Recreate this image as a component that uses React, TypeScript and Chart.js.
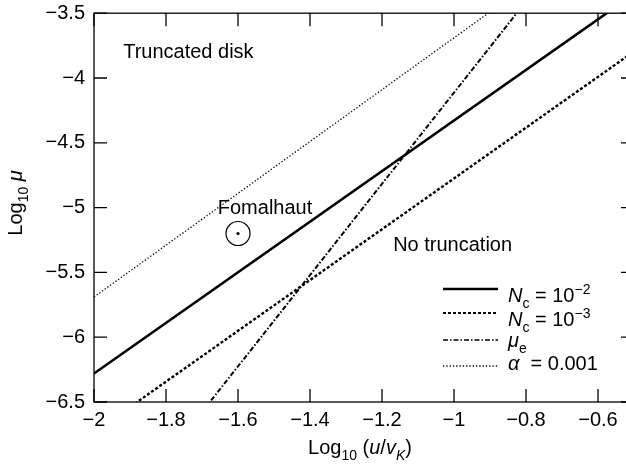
import React, { useEffect, useRef } from 'react';
import { Chart, registerables } from 'chart.js';

Chart.register(...registerables);

// Endpoints of each boundary line (log10 u/vK -> log10 mu)
const xEnds = [-2, -0.5];
const ncHighY = [-6.28, -3.352];   // N_c = 1e-2
const ncLowY = [-6.735, -3.795];   // N_c = 1e-3
const muEY = [-7.633, -2.353];     // mu_e
const alphaY = [-5.69, -2.69];     // alpha = 0.001

const fomalhautX = [-1.6];
const fomalhautY = [-5.2];

const xTicks = [-2, -1.8, -1.6, -1.4, -1.2, -1, -0.8, -0.6];
const yTicks = [-6.5, -6, -5.5, -5, -4.5, -4, -3.5];

const FAMILY = '"Liberation Sans", Arial, Helvetica, sans-serif';
const FS = 20;

type Seg = { t: string; it?: boolean; sub?: boolean; sup?: boolean };

const fmt = (v: number) => (v < 0 ? '\u2212' : '') + String(Math.round(Math.abs(v) * 10) / 10);

function segFont(s: Seg, size: number) {
  const sz = s.sub || s.sup ? Math.round(size * 0.7) : size;
  return `${s.it ? 'italic ' : ''}${sz}px ${FAMILY}`;
}

function richWidth(ctx: CanvasRenderingContext2D, segs: Seg[], size: number) {
  let w = 0;
  for (const s of segs) {
    ctx.font = segFont(s, size);
    w += ctx.measureText(s.t).width;
  }
  return w;
}

// Draws mixed italic / sub / superscript text with its baseline at y
function drawRich(ctx: CanvasRenderingContext2D, segs: Seg[], x: number, y: number, size: number, align: 'left' | 'center' = 'left') {
  let cx = align === 'center' ? x - richWidth(ctx, segs, size) / 2 : x;
  ctx.textAlign = 'left';
  ctx.textBaseline = 'alphabetic';
  for (const s of segs) {
    ctx.font = segFont(s, size);
    const dy = s.sub ? size * 0.28 : s.sup ? -size * 0.42 : 0;
    ctx.fillText(s.t, cx, y + dy);
    cx += ctx.measureText(s.t).width;
  }
}

const styles = {
  ncHigh: { width: 2.6, dash: [] as number[] },
  ncLow: { width: 2.4, dash: [3, 2] },
  muE: { width: 2, dash: [5, 2, 1.5, 2] },
  alpha: { width: 1.3, dash: [1.3, 2] },
};

const legendItems: { style: { width: number; dash: number[] }; label: Seg[] }[] = [
  { style: styles.ncHigh, label: [{ t: 'N', it: true }, { t: 'c', sub: true }, { t: ' = 10' }, { t: '\u22122', sup: true }] },
  { style: { width: 1.8, dash: [3, 2] }, label: [{ t: 'N', it: true }, { t: 'c', sub: true }, { t: ' = 10' }, { t: '\u22123', sup: true }] },
  { style: { width: 1.6, dash: [5, 2, 1.5, 2] }, label: [{ t: '\u03bc', it: true }, { t: 'e', sub: true }] },
  { style: styles.alpha, label: [{ t: '\u03b1', it: true }, { t: '  = 0.001' }] },
];

const framePlugin = {
  id: 'frame',
  afterDatasetsDraw(chart: any) {
    const ctx: CanvasRenderingContext2D = chart.ctx;
    const { left, right, top, bottom } = chart.chartArea;
    const xs = chart.scales.x;
    const ys = chart.scales.y;
    ctx.save();
    ctx.strokeStyle = '#000';
    ctx.fillStyle = '#000';
    ctx.lineWidth = 1.3;
    ctx.setLineDash([]);
    ctx.strokeRect(left, top, right - left, bottom - top);

    // inward tick marks on all four sides
    const tl = 13;
    ctx.beginPath();
    for (const v of xTicks) {
      const px = xs.getPixelForValue(v);
      ctx.moveTo(px, bottom); ctx.lineTo(px, bottom - tl);
      ctx.moveTo(px, top); ctx.lineTo(px, top + tl);
    }
    for (const v of yTicks) {
      const py = ys.getPixelForValue(v);
      ctx.moveTo(left, py); ctx.lineTo(left + tl, py);
      ctx.moveTo(right, py); ctx.lineTo(right - tl, py);
    }
    ctx.stroke();

    // region and object labels
    ctx.font = `${FS}px ${FAMILY}`;
    ctx.textBaseline = 'middle';
    ctx.textAlign = 'left';
    ctx.fillText('Truncated disk', xs.getPixelForValue(-1.919), ys.getPixelForValue(-3.805));
    ctx.fillText('No truncation', xs.getPixelForValue(-1.169), ys.getPixelForValue(-5.29));
    ctx.textAlign = 'center';
    ctx.fillText('Fomalhaut', xs.getPixelForValue(-1.525), ys.getPixelForValue(-5.005));

    // legend
    const lx0 = 443, lx1 = 498, tx = 508;
    const lineYs = [289, 313, 340, 366];
    const textYs = [302, 326, 347, 370];
    legendItems.forEach((item, i) => {
      ctx.beginPath();
      ctx.lineWidth = item.style.width;
      ctx.setLineDash(item.style.dash);
      ctx.moveTo(lx0, lineYs[i]);
      ctx.lineTo(lx1, lineYs[i]);
      ctx.stroke();
      ctx.setLineDash([]);
      drawRich(ctx, item.label, tx, textYs[i], FS);
    });

    // axis titles
    const xTitle: Seg[] = [{ t: 'Log' }, { t: '10', sub: true }, { t: ' (' }, { t: 'u', it: true }, { t: '/' }, { t: 'v', it: true }, { t: 'K', it: true, sub: true }, { t: ')' }];
    drawRich(ctx, xTitle, 360, 454, FS, 'center');

    const yTitle: Seg[] = [{ t: 'Log' }, { t: '10', sub: true }, { t: ' ' }, { t: '\u03bc', it: true }];
    ctx.translate(22, 203);
    ctx.rotate(-Math.PI / 2);
    drawRich(ctx, yTitle, 0, 0, FS, 'center');
    ctx.restore();
  },
};

function lineSet(ys: number[], st: { width: number; dash: number[] }) {
  return {
    data: xEnds.map((x, i) => ({ x, y: ys[i] })),
    showLine: true,
    borderColor: '#000',
    backgroundColor: '#000',
    borderWidth: st.width,
    borderDash: st.dash,
    pointRadius: 0,
    fill: false,
  };
}

export default function App() {
  const ref = useRef<HTMLCanvasElement>(null);

  useEffect(() => {
    const canvas = ref.current!;
    const tickFont = { family: FAMILY, size: FS };
    const chart = new Chart(canvas, {
      type: 'scatter',
      data: {
        datasets: [
          lineSet(ncHighY, styles.ncHigh),
          lineSet(ncLowY, styles.ncLow),
          lineSet(muEY, styles.muE),
          lineSet(alphaY, styles.alpha),
          {
            data: fomalhautX.map((x, i) => ({ x, y: fomalhautY[i] })),
            pointRadius: 12,
            pointBorderWidth: 1.2,
            borderColor: '#000',
            backgroundColor: 'rgba(0,0,0,0)',
          },
          {
            data: fomalhautX.map((x, i) => ({ x, y: fomalhautY[i] })),
            pointRadius: 1.6,
            borderWidth: 0,
            backgroundColor: '#000',
          },
        ] as any,
      },
      options: {
        responsive: false,
        animation: false,
        devicePixelRatio: 1,
        layout: { padding: { left: 0, top: 12, right: 16, bottom: 0 } },
        plugins: { legend: { display: false }, tooltip: { enabled: false } },
        scales: {
          x: {
            type: 'linear',
            min: -2,
            max: -0.5,
            grid: { display: false, drawTicks: false },
            border: { display: false },
            afterBuildTicks: (s: any) => { s.ticks = xTicks.map((v) => ({ value: v })); },
            afterFit: (s: any) => { s.height = 67; s.paddingLeft = 0; s.paddingRight = 0; },
            ticks: { padding: 6, color: '#000', font: tickFont, maxRotation: 0, autoSkip: false, callback: (v: any) => fmt(Number(v)) },
          },
          y: {
            type: 'linear',
            min: -6.5,
            max: -3.5,
            grid: { display: false, drawTicks: false },
            border: { display: false },
            afterBuildTicks: (s: any) => { s.ticks = yTicks.map((v) => ({ value: v })); },
            afterFit: (s: any) => { s.width = 94; s.paddingTop = 0; s.paddingBottom = 0; },
            ticks: { padding: 9, color: '#000', font: tickFont, autoSkip: false, callback: (v: any) => fmt(Number(v)) },
          },
        },
      } as any,
      plugins: [framePlugin],
    });
    return () => chart.destroy();
  }, []);

  return (
    <div style={{ position: 'fixed', left: 0, top: 0, width: 626, height: 469, overflow: 'hidden', background: '#fff' }}>
      <canvas ref={ref} width={650} height={469} style={{ display: 'block' }} />
    </div>
  );
}
